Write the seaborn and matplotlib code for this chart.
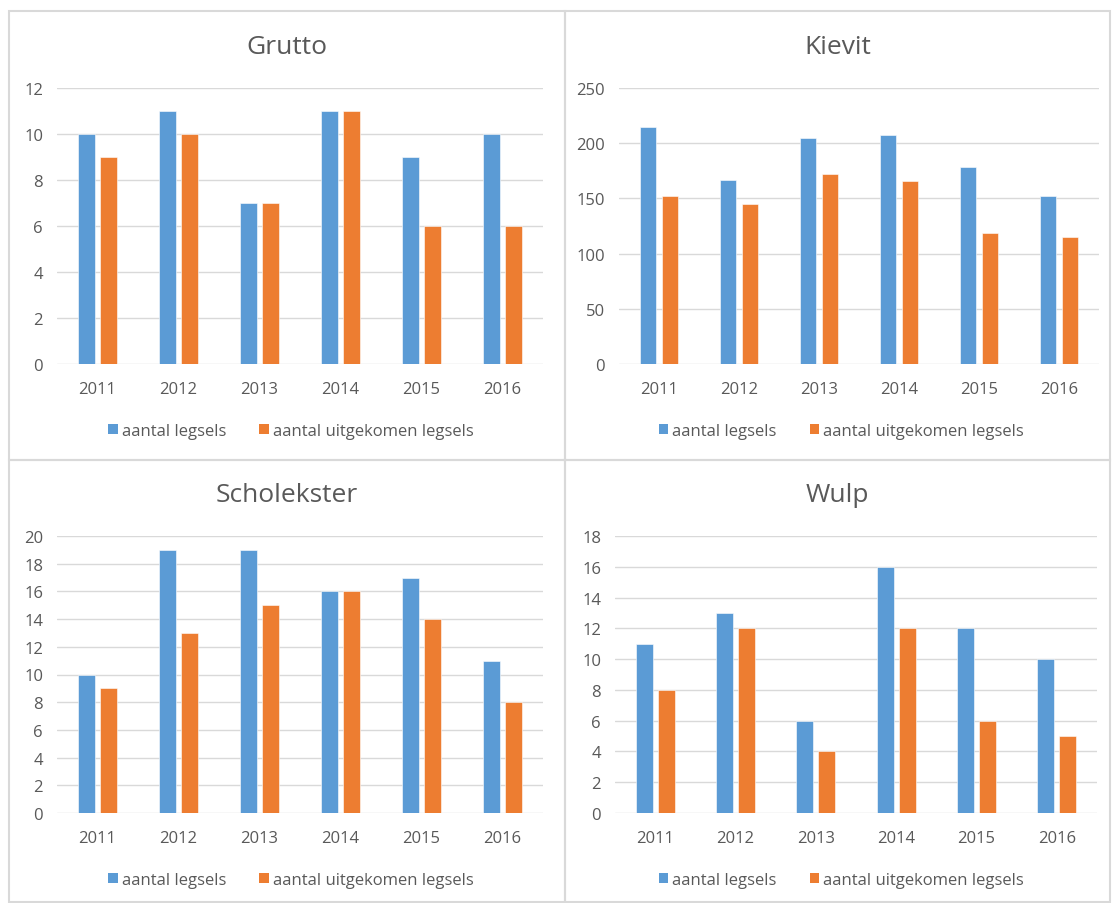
import matplotlib
matplotlib.use("Agg")
import matplotlib.pyplot as plt
from matplotlib.patches import Rectangle, Patch
import pandas as pd
import seaborn as sns

# Breeding records per meadow bird species
jaren = ["2011", "2012", "2013", "2014", "2015", "2016"]
reeksen = ["aantal legsels", "aantal uitgekomen legsels"]

grutto_legsels = [10, 11, 7, 11, 9, 10]
grutto_uitgekomen = [9, 10, 7, 11, 6, 6]

kievit_legsels = [215, 167, 205, 207, 178, 152]
kievit_uitgekomen = [152, 145, 172, 166, 119, 115]

scholekster_legsels = [10, 19, 19, 16, 17, 11]
scholekster_uitgekomen = [9, 13, 15, 16, 14, 8]

wulp_legsels = [11, 13, 6, 16, 12, 10]
wulp_uitgekomen = [8, 12, 4, 12, 6, 5]

soorten = ["Grutto", "Kievit", "Scholekster", "Wulp"]
reeks_data = {
    "Grutto": (grutto_legsels, grutto_uitgekomen),
    "Kievit": (kievit_legsels, kievit_uitgekomen),
    "Scholekster": (scholekster_legsels, scholekster_uitgekomen),
    "Wulp": (wulp_legsels, wulp_uitgekomen),
}
y_max = {"Grutto": 12, "Kievit": 250, "Scholekster": 20, "Wulp": 18}
y_stap = {"Grutto": 2, "Kievit": 50, "Scholekster": 2, "Wulp": 2}

BLAUW = "#5B9BD5"
ORANJE = "#ED7D31"
TEKST = "#595959"
RASTER = "#D9D9D9"

sns.set_theme(style="white")
plt.rcParams["font.family"] = ["Open Sans", "DejaVu Sans"]

W, H = 1112, 904
fig = plt.figure(figsize=(W / 100, H / 100), dpi=100)

# pixel layout: panel frame (x0, y0, x1, y1) and plot area (x0, y0, x1, y1), top-left origin
panelen = {
    "Grutto": ((9, 12, 565, 461), (57, 89, 543, 365)),
    "Kievit": ((565, 12, 1110, 461), (619, 89, 1099, 365)),
    "Scholekster": ((9, 461, 565, 903), (57, 537, 543, 814)),
    "Wulp": ((565, 461, 1110, 903), (615, 537, 1097, 814)),
}


def fx(x):
    return x / W


def fy(y):
    return 1 - y / H


for soort in soorten:
    (px0, py0, px1, py1), (ax0, ay0, ax1, ay1) = panelen[soort]

    fig.patches.append(
        Rectangle((fx(px0), fy(py1)), fx(px1 - px0), (py1 - py0) / H,
                  transform=fig.transFigure, fill=False,
                  edgecolor=RASTER, linewidth=1.5, zorder=0)
    )

    ax = fig.add_axes([fx(ax0), fy(ay1), fx(ax1 - ax0), (ay1 - ay0) / H])

    legsels, uitgekomen = reeks_data[soort]
    df = pd.DataFrame({
        "jaar": jaren * 2,
        "aantal": list(legsels) + list(uitgekomen),
        "reeks": [reeksen[0]] * len(jaren) + [reeksen[1]] * len(jaren),
    })
    sns.barplot(data=df, x="jaar", y="aantal", hue="reeks",
                palette=[BLAUW, ORANJE], saturation=1,
                width=0.55, gap=0.24,
                edgecolor="white", linewidth=0.4,
                ax=ax, legend=False, zorder=3)

    ax.set_ylim(0, y_max[soort])
    ax.set_yticks(range(0, y_max[soort] + 1, y_stap[soort]))
    ax.set_xlim(-0.5, len(jaren) - 0.5)
    ax.set_xlabel("")
    ax.set_ylabel("")
    for sp in ax.spines.values():
        sp.set_visible(False)
    ax.grid(axis="y", color=RASTER, linewidth=1.0, zorder=0)
    ax.grid(axis="x", visible=False)
    ax.set_axisbelow(True)
    ax.tick_params(axis="both", length=0, labelsize=12, labelcolor=TEKST)
    ax.tick_params(axis="y", pad=10)
    ax.tick_params(axis="x", pad=12)

    # title centred over the panel
    fig.text(fx((px0 + px1) / 2), fy(py0 + 35), soort, ha="center", va="center",
             fontsize=19, color=TEKST)

    handles = [Patch(facecolor=BLAUW, edgecolor="none"),
               Patch(facecolor=ORANJE, edgecolor="none")]
    ax.legend(handles, reeksen, loc="center", ncol=2,
              bbox_to_anchor=(fx((px0 + px1) / 2 + 4), fy(ay1 + 67)),
              bbox_transform=fig.transFigure, frameon=False,
              fontsize=12, labelcolor=TEKST,
              handlelength=0.55, handleheight=0.55, handletextpad=0.25,
              columnspacing=2.0, borderaxespad=0)

fig.savefig("out.png", dpi=100, facecolor="white")
